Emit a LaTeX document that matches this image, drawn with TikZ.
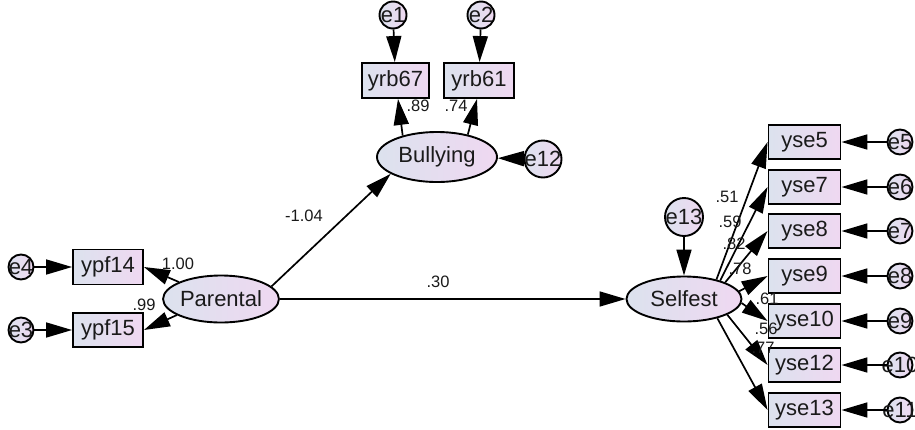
\documentclass[tikz,border=0pt]{standalone}
\usepackage{fontspec}
\setmainfont{Liberation Sans}
\usetikzlibrary{arrows.meta,shapes.geometric}
\definecolor{gl}{HTML}{DCE2EE}
\definecolor{gr}{HTML}{EFD8F1}
\definecolor{txt}{HTML}{1A1A1A}
\newcommand{\ztext}[1]{\makebox[0pt]{#1}}
\begin{document}
\begin{tikzpicture}[x=1pt,y=-1pt,
  base/.style={draw=black, line width=1.9pt, left color=gl, right color=gr, inner sep=0pt,
    font=\fontsize{22}{22}\selectfont, text=txt},
  obs/.style={base, rectangle, minimum width=71pt, minimum height=34pt},
  lat/.style={base, ellipse},
  err/.style={base, circle, minimum size=25pt},
  conn/.style={line width=1.7pt, -{Triangle[length=26pt,width=15pt]}},
  lbl/.style={font=\fontsize{16.5}{16.5}\selectfont, text=txt, inner sep=0pt}
]
\useasboundingbox (0,0) rectangle (915,429);
% Bullying block
\node[err, minimum size=27pt] (e1) at (393,15) {\ztext{e1}};
\node[err, minimum size=27pt] (e2) at (481,15) {\ztext{e2}};
\node[obs, minimum width=67pt, minimum height=35pt] (yrb67) at (395.5,80.5) {yrb67};
\node[obs, minimum width=70pt, minimum height=35pt] (yrb61) at (479,80.5) {yrb61};
\node[lat, minimum width=120pt, minimum height=50pt] (bul) at (437,157) {Bullying};
\node[err, minimum size=37pt] (e12) at (543,159) {\ztext{e12}};
% Parental block
\node[lat, minimum width=107pt, minimum height=47pt] (par) at (221,299) {Parental};
\node[obs, minimum width=70pt, minimum height=35pt] (ypf14) at (108,267) {ypf14};
\node[obs, minimum width=70pt, minimum height=34pt] (ypf15) at (108,330) {ypf15};
\node[err] (e4) at (21,267) {\ztext{e4}};
\node[err] (e3) at (21,330) {\ztext{e3}};
% Selfest block
\node[lat, minimum width=115pt, minimum height=45pt] (sel) at (684,299) {Selfest};
\node[err, minimum size=38pt] (e13) at (684,217) {\ztext{e13}};
\foreach \n/\y/\e in {5/142/5, 7/187/6, 8/231/7, 9/276/8, 10/321/9, 12/365/10, 13/410/11}{
  \node[obs, minimum width=72pt] (yse\n) at (804.5,\y) {yse\n};
  \node[err] (e\e) at (900,\y) {\ztext{e\e}};
  \draw[conn] (e\e) -- (yse\n.east);
}
% connectors
\draw[conn] (e1) -- (yrb67);
\draw[conn] (e2) -- (yrb61);
\draw[conn] (bul.148) -- ([xshift=2.5pt]yrb67.south);
\draw[conn] (bul.36) -- ([xshift=-2pt]yrb61.south);
\draw[conn] (e12) -- (bul);
\draw[conn] (e4) -- (ypf14);
\draw[conn] (e3) -- (ypf15);
\draw[conn] (par.158) -- (ypf14.east);
\draw[conn] (par.200) -- (ypf15.east);
\draw[conn] (par.14) -- (bul.200);
\draw[conn] (par) -- (sel);
\draw[conn] (e13) -- (sel);
\draw[conn] (sel.31) -- (yse5.west);
\draw[conn] (sel.27) -- (yse7.west);
\draw[conn] (sel.22) -- (yse8.west);
\draw[conn] (sel.8) -- (yse9.west);
\draw[conn] (sel.-4) -- (yse10.west);
\draw[conn] (sel.-20) -- (yse12.west);
\draw[conn] (sel.-30) -- (yse13.west);
% labels
\node[lbl] (l89) at (418,106) {.89};
\node[lbl] (l74) at (456,106) {.74};
\node[lbl] (l104) at (304,216) {-1.04};
\node[lbl] (l100) at (178,264) {1.00};
\node[lbl] (l99) at (144,305) {.99};
\node[lbl] (l30) at (438,282) {.30};
\node[lbl] (l51) at (727,197) {.51};
\node[lbl] (l59) at (730,222) {.59};
\node[lbl] (l82) at (734,244) {.82};
\node[lbl] (l78) at (740,269) {.78};
\node[lbl] (l61) at (767,299) {.61};
\node[lbl] (l56) at (766,329) {.56};
\node[lbl] (l77) at (763,348) {.77};
\end{tikzpicture}
\end{document}
